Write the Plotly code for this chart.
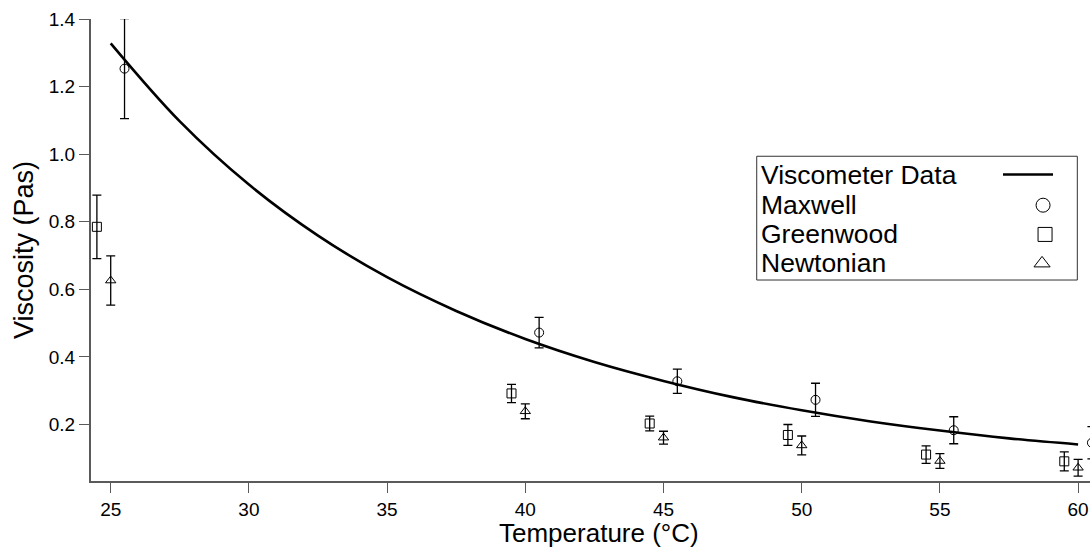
import plotly.graph_objects as go

# ---- data ----
curve_T = [25.0, 27.5, 30.0, 32.5, 35.0, 37.5, 40.0, 42.5, 45.0, 47.5, 50.0, 52.5, 55.0, 57.5, 60.0]
curve_visc = [1.328, 1.097, 0.910, 0.759, 0.636, 0.536, 0.453, 0.385, 0.329, 0.281, 0.242, 0.209, 0.182, 0.159, 0.141]

maxwell_T = [25.5, 40.5, 45.5, 50.5, 55.5, 60.5]
maxwell_visc = [1.253, 0.472, 0.328, 0.273, 0.183, 0.146]
maxwell_err = [0.148, 0.045, 0.036, 0.049, 0.040, 0.048]

greenwood_T = [24.5, 39.5, 44.5, 49.5, 54.5, 59.5]
greenwood_visc = [0.785, 0.292, 0.203, 0.169, 0.111, 0.091]
greenwood_err = [0.094, 0.027, 0.022, 0.031, 0.026, 0.028]

newtonian_T = [25, 40, 45, 50, 55, 60]
newtonian_visc = [0.626, 0.239, 0.161, 0.138, 0.092, 0.072]
newtonian_err = [0.073, 0.022, 0.019, 0.028, 0.022, 0.025]

x_ticks = [25, 30, 35, 40, 45, 50, 55, 60]
y_ticks = [0.2, 0.4, 0.6, 0.8, 1.0, 1.2, 1.4]

legend_names = ["Viscometer Data", "Maxwell", "Greenwood", "Newtonian"]

FONT = "Arial, 'Liberation Sans', sans-serif"
AXIS_COLOR = "#5a5a5a"

fig = go.Figure()

fig.add_trace(go.Scatter(
    x=curve_T, y=curve_visc, mode="lines",
    line=dict(color="black", width=2.6, shape="spline", smoothing=1.0),
    showlegend=False, hoverinfo="skip"))


def points(xs, ys, es, symbol):
    return go.Scatter(
        x=xs, y=ys, mode="markers",
        marker=dict(symbol=symbol, size=9, color="black", line=dict(width=1, color="black")),
        error_y=dict(type="data", array=es, visible=True, color="black", thickness=1.3, width=4.5),
        showlegend=False)


fig.add_trace(points(maxwell_T, maxwell_visc, maxwell_err, "circle-open"))
fig.add_trace(points(greenwood_T, greenwood_visc, greenwood_err, "square-open"))
fig.add_trace(points(newtonian_T, newtonian_visc, newtonian_err, "triangle-up-open"))

# ---- custom legend (text left, symbol right) on an overlay axis in plot-fraction units ----
leg_x0, leg_x1, leg_y0, leg_y1 = 0.6664, 0.9873, 0.435, 0.7029
row_y = [0.6634, 0.597, 0.5337, 0.471]
fig.add_shape(type="rect", xref="x domain", yref="y domain",
              x0=leg_x0, x1=leg_x1, y0=leg_y0, y1=leg_y1,
              line=dict(color="#333333", width=1), fillcolor="white", layer="below")
for name, ry in zip(legend_names, row_y):
    fig.add_annotation(xref="x domain", yref="y domain", x=0.6684, y=ry,
                       text=name, showarrow=False, xanchor="left", yanchor="middle",
                       font=dict(family=FONT, size=26.5, color="black"))
fig.add_trace(go.Scatter(x=[0.9129, 0.963], y=[row_y[0], row_y[0]], mode="lines",
                         line=dict(color="black", width=2.4), xaxis="x2", yaxis="y2",
                         showlegend=False, hoverinfo="skip", cliponaxis=False))
for sym, sx, ry in zip(["circle-open", "square-open", "triangle-up-open"],
                       [0.953, 0.955, 0.952], row_y[1:]):
    fig.add_trace(go.Scatter(x=[sx], y=[ry], mode="markers",
                             marker=dict(symbol=sym, size=14, color="black", line=dict(width=1)),
                             xaxis="x2", yaxis="y2", showlegend=False, hoverinfo="skip",
                             cliponaxis=False))

fig.add_annotation(xref="paper", yref="paper", x=0.5085, y=-0.1135,
                   text="Temperature (°C)", showarrow=False, xanchor="center", yanchor="middle",
                   font=dict(family=FONT, size=26, color="black"))

fig.update_layout(
    width=1090, height=547,
    margin=dict(l=91, r=0, t=18.5, b=65.7, pad=0),
    paper_bgcolor="white", plot_bgcolor="white",
    font=dict(family=FONT, color="black"),
    showlegend=False,
    xaxis=dict(range=[24.287, 60.43], tickvals=x_ticks, ticktext=[str(t) for t in x_ticks],
               showgrid=False, zeroline=False, showline=True, linecolor=AXIS_COLOR, linewidth=2,
               ticks="outside", ticklen=10, tickwidth=1.3, tickcolor=AXIS_COLOR,
               tickfont=dict(family=FONT, size=19, color="black"), mirror=False),
    yaxis=dict(range=[0.0328, 1.4], tickvals=y_ticks, ticktext=[f"{t:.1f}" for t in y_ticks],
               showgrid=False, zeroline=False, showline=True, linecolor=AXIS_COLOR, linewidth=2,
               ticks="outside", ticklen=10, tickwidth=1.3, tickcolor=AXIS_COLOR,
               tickfont=dict(family=FONT, size=19, color="black"),
               title=dict(text="Viscosity (Pas)", font=dict(family=FONT, size=27, color="black"),
                          standoff=7)),
    xaxis2=dict(range=[0, 1], overlaying="x", visible=False, fixedrange=True),
    yaxis2=dict(range=[0, 1], overlaying="y", visible=False, fixedrange=True),
)

fig.write_html("out.html", config={"displayModeBar": False},
               post_script="document.body.style.margin='0px';document.body.style.padding='0px';")
